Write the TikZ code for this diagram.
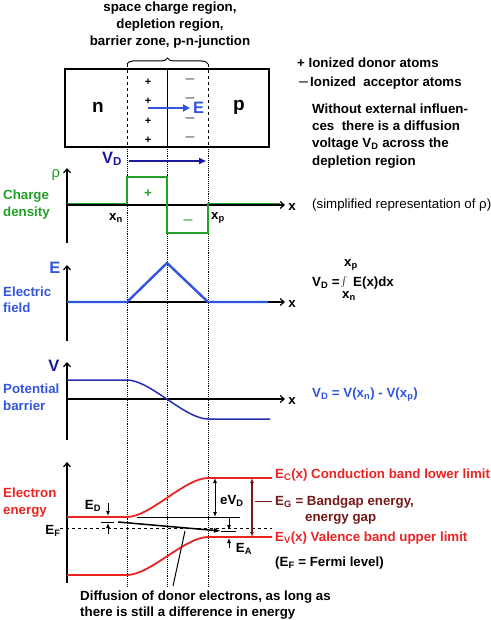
\documentclass[tikz,border=0pt]{standalone}
\usepackage{fontspec}
\setmainfont{Liberation Sans}
\usetikzlibrary{arrows.meta,decorations.pathreplacing,calc}
\definecolor{cgreen}{RGB}{35,160,40}
\definecolor{cblue}{RGB}{50,85,225}
\definecolor{cnavy}{RGB}{25,25,160}
\definecolor{cpot}{RGB}{35,45,175}
\definecolor{cred}{RGB}{235,35,35}
\definecolor{cdred}{RGB}{120,25,25}
\begin{document}
\begin{tikzpicture}[x=1pt,y=-1pt,
  lab/.style={inner sep=0pt, font=\fontsize{13.3}{16}\selectfont\bfseries, text height=9.6pt, text depth=0pt},
  labl/.style={lab, anchor=west},
  reg/.style={inner sep=0pt, font=\fontsize{13.3}{16}\selectfont, text height=9.6pt, text depth=0pt},
  big/.style={inner sep=0pt, font=\fontsize{16.5}{18}\selectfont\bfseries},
  axis/.style={line width=1.2pt, -{Straight Barb[length=4pt,width=7pt]}},
  guide/.style={densely dotted, line width=0.9pt},
  band/.style={cred, line width=1.8pt},
  dim/.style={line width=1pt, {Latex[length=5pt,width=4pt]}-{Latex[length=5pt,width=4pt]}},
  tip/.style={line width=1pt, -{Latex[length=5pt,width=4pt]}},
  minus/.style={inner sep=0pt, anchor=base, font=\fontsize{16}{16}\selectfont}
]
\useasboundingbox (0,0) rectangle (490,620);

% ---------- title ----------
\node[lab] (t1) at (170,7) {space charge region,};
\node[lab] (t2) at (170,24) {depletion region,};
\node[lab] (t3) at (170,41) {barrier zone, p-n-junction};

% ---------- brace and box ----------
\coordinate (bl) at (127,64);
\coordinate (br) at (208,64);
\draw[line width=1pt, decorate, decoration={brace, amplitude=6pt}] (bl) -- (br);
\draw[line width=1.6pt] (65,69) rectangle (269,147);
\coordinate (jt) at (167,69);
\coordinate (jb) at (167,147);
\draw[line width=1pt] (jt) -- (jb);
\coordinate (dlb) at (127,147);
\coordinate (drb) at (208,147);
\draw[dashed, line width=1pt] (bl) -- (dlb);
\draw[dashed, line width=1pt] (br) -- (drb);

\node[inner sep=0pt, font=\fontsize{19}{20}\selectfont\bfseries] (nn) at (98,107) {n};
\node[inner sep=0pt, font=\fontsize{19}{20}\selectfont\bfseries] (pp) at (239,107) {p};
\foreach \y [count=\i] in {82,101,121,140} {
  \node[lab, font=\fontsize{11}{12}\selectfont\bfseries, text height=7pt] (pl\i) at (148,\y) {+};
}
\foreach \y [count=\i] in {83.4,102.4,122.4,141.4} {
  \node[minus, text=black!65] (mi\i) at (190,\y) {–};
}
\coordinate (Es) at (148,108);
\coordinate (Ee) at (190,108);
\node[big, text=cblue, anchor=west] (Elab) at (193,108) {E};
\draw[cblue, line width=1.8pt, -{Triangle[length=7pt,width=7pt]}] (Es) -- (Ee);

% ---------- legend ----------
\node[labl] (lg1) at (297,63) {+ Ionized donor atoms};
\node[minus] (lg2m) at (303.5,86.4) {–};
\node[labl] (lg2) at (310,82) {Ionized\ \ acceptor atoms};
\node[labl] (w1) at (312,109) {Without external influen-};
\node[labl] (w2) at (312,126) {ces\ \ there is a diffusion};
\node[labl] (w3) at (312,143) {voltage V\textsubscript{D} across the};
\node[labl] (w4) at (312,161) {depletion region};

% ---------- V_D arrow ----------
\node[big, text=cnavy] (VD) at (112,159) {V\textsubscript{D}};
\coordinate (vda) at (129,161);
\coordinate (vdb) at (206,161);
\draw[cnavy, line width=1.8pt, -{Triangle[length=7pt,width=6pt]}] (vda) -- (vdb);

% ---------- guide lines ----------
\coordinate (gl) at (127,586);
\coordinate (gm) at (167,586);
\coordinate (gr) at (208,586);
\draw[guide] (dlb) -- (gl);
\draw[guide] (jb) -- (gm);
\draw[guide] (drb) -- (gr);

% ---------- charge density ----------
\node[labl, text=cgreen] (cd1) at (3,195) {Charge};
\node[labl, text=cgreen] (cd2) at (3,212) {density};
\node[inner sep=0pt, font=\fontsize{15}{16}\selectfont, text=cgreen] (rho) at (56,175) {ρ};
\coordinate (c0) at (67,243);
\coordinate (c1) at (67,168);
\draw[axis] (c0) -- (c1);
\coordinate (cx0) at (67,205);
\coordinate (cx1) at (285,205);
\draw[axis] (cx0) -- (cx1);
\node[lab] (cxl) at (292,206) {x};
\draw[cgreen, line width=1.6pt] (67,203.5) -- (127,203.5) -- (127,177) -- (167,177) -- (167,233) -- (208,233) -- (208,203.5) -- (280,203.5);
\node[lab, text=cgreen] (cplus) at (148,193) {+};
\node[minus, text=cgreen] (cminus) at (188,224.4) {–};
\node[lab] (xn) at (116,216) {x\textsubscript{n}};
\node[lab] (xp) at (218,215) {x\textsubscript{p}};
\node[reg, anchor=west] (simp) at (312,204) {(simplified representation of ρ)};

% ---------- electric field ----------
\node[labl, text=cblue] (ef1) at (3,292) {Electric};
\node[labl, text=cblue] (ef2) at (3,308) {field};
\node[big, text=cblue] (Eax) at (55,268) {E};
\coordinate (e0) at (67,341);
\coordinate (e1) at (67,265);
\draw[axis] (e0) -- (e1);
\coordinate (ex0) at (67,302);
\coordinate (ex1) at (285,302);
\draw[axis] (ex0) -- (ex1);
\node[lab] (exl) at (292,303) {x};
\draw[cblue, line width=2.4pt, line join=miter] (67,302) -- (127,302) -- (167,263) -- (208,302) -- (268,302);
\node[lab, anchor=west] (int1) at (312,282) {V\textsubscript{D} =};
\node[inner sep=0pt, font=\fontsize{17}{17}\selectfont] (int2) at (344,282) {$\int$};
\node[lab] (int3) at (351,262) {x\textsubscript{p}};
\node[lab] (int4) at (349,294) {x\textsubscript{n}};
\node[lab, anchor=west] (int5) at (353,282) {E(x)dx};

% ---------- potential ----------
\node[labl, text=cblue] (pb1) at (3,389) {Potential};
\node[labl, text=cblue] (pb2) at (3,406) {barrier};
\node[big, text=cnavy] (Vax) at (54,366) {V};
\coordinate (p0) at (67,440);
\coordinate (p1) at (67,362);
\draw[axis] (p0) -- (p1);
\coordinate (px0) at (67,399);
\coordinate (px1) at (285,399);
\draw[axis] (px0) -- (px1);
\node[lab] (pxl) at (292,400) {x};
\draw[cpot, line width=1.5pt] (67,380) -- (127,380) .. controls (150,380) and (185,419) .. (208,419) -- (270,419);
\node[lab, anchor=west, text=cblue] (vdeq) at (312,393) {V\textsubscript{D} = V(x\textsubscript{n}) - V(x\textsubscript{p})};

% ---------- energy bands ----------
\node[labl, text=cred] (ee1) at (3,493) {Electron};
\node[labl, text=cred] (ee2) at (3,510) {energy};
\coordinate (b0) at (67,583);
\coordinate (b1) at (67,462);
\draw[axis] (b0) -- (b1);
\draw[band] (67,517) -- (127,517) .. controls (150,517) and (185,478) .. (208,478) -- (272,478);
\draw[band] (67,575) -- (127,575) .. controls (150,575) and (185,537) .. (208,537) -- (272,537);
\draw[line width=0.9pt] (137,517) -- (240,517);
\draw[dashed, line width=0.9pt] (60,528) -- (272,528);
\node[lab] (EF) at (53,530) {E\textsubscript{F}};
% donor level
\coordinate (dl0) at (101,522);
\coordinate (dl1) at (114,522);
\draw[line width=0.9pt] (dl0) -- (dl1);
\node[lab] (ED) at (93,505) {E\textsubscript{D}};
\draw[tip] (108,503) -- (108,516);
\draw[tip] (108,534) -- (108,523);
% acceptor level
\coordinate (al0) at (221,531);
\coordinate (al1) at (236,531);
\draw[line width=0.9pt] (al0) -- (al1);
\draw[tip] (229,518) -- (229,530);
\draw[tip] (229,548) -- (229,538);
\node[lab] (EA) at (244,548) {E\textsubscript{A}};
% diffusion arrow
\coordinate (df0) at (118,522);
\draw[line width=1.5pt, -{Latex[length=7pt,width=5pt]}] (df0) -- (al0);
% eV_D
\draw[dim] (215,478) -- (215,517);
\node[lab, anchor=west] (eVD) at (220,500) {eV\textsubscript{D}};
% E_G
\draw[dim, cdred, line width=1.2pt] (252,478) -- (252,537);
\coordinate (eg0) at (255,501);
\coordinate (eg1) at (272,501);
\draw[cdred, line width=1pt] (eg0) -- (eg1);
\node[lab, anchor=west, text=cred] (EC) at (275,474) {E\textsubscript{C}(x) Conduction band lower limit};
\node[lab, anchor=west, text=cdred] (EG) at (275,501) {E\textsubscript{G} = Bandgap energy,};
\node[lab, anchor=west, text=cdred] (EG2) at (305,517) {energy gap};
\node[lab, anchor=west, text=cred] (EV) at (275,537) {E\textsubscript{V}(x) Valence band upper limit};
\node[lab, anchor=west] (EFl) at (275,562) {(E\textsubscript{F} = Fermi level)};
% diffusion text
\node[labl] (dt1) at (80,596) {Diffusion of donor electrons, as long as};
\node[labl] (dt2) at (80,612) {there is still a difference in energy};
\coordinate (pt0) at (185,531);
\coordinate (pt1) at (173,586);
\draw[line width=1pt] (pt0) -- (pt1);
\end{tikzpicture}
\end{document}
